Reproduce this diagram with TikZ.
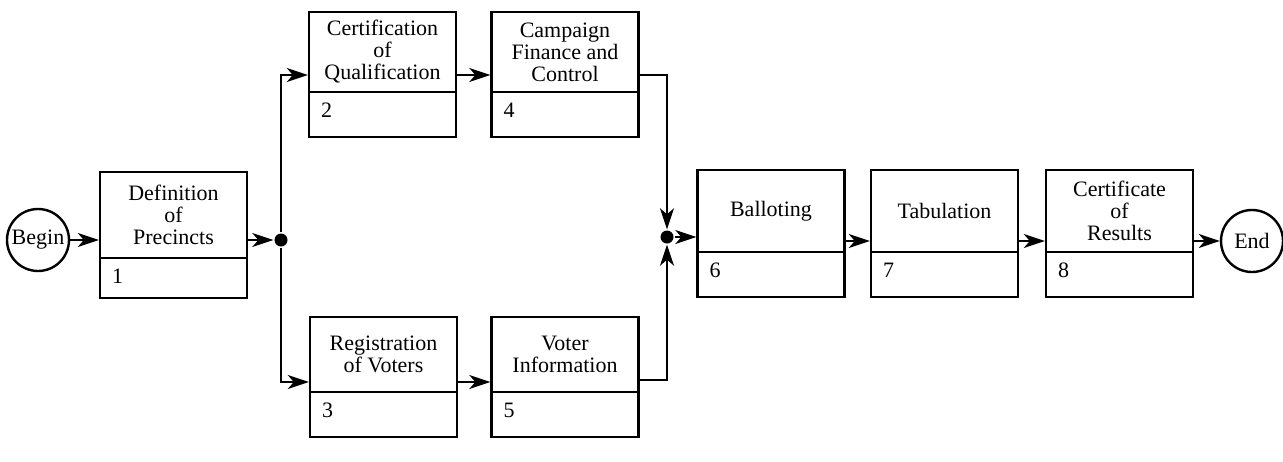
\documentclass[tikz,border=0pt]{standalone}
\usepackage{fontspec}
\setmainfont{Liberation Serif}
\usetikzlibrary{arrows.meta,positioning}

\begin{document}
\begin{tikzpicture}[
        x=1pt, y=-1pt,
        line width=2.4pt,
        font=\fontsize{22}{22}\selectfont,
        >={Stealth[length=21pt,width=14pt,inset=6pt]},
        stage/.style={
        draw,
        minimum width=147pt,
        minimum height=#1,
        align=center,
        inner sep=2pt
      },
      stagenum/.style={
        draw,
        text width=123pt,
        inner xsep=12pt,
        inner ysep=0pt,
        text height=25pt,
        text depth=#1,
        align=left
      },
      term/.style={
        circle,
        draw,
        minimum size=62pt,
        inner sep=0pt
      },
      junction/.style={
        circle,
        fill,
        minimum size=13pt,
        inner sep=0pt
      },
      node distance=-2.4pt
    ]

    \useasboundingbox (0, 0) rectangle (1283, 461);

    \node[term] (begin) at (38, 240) {Begin};
    \node[term] (end) at (1252, 241) {End};

    \node[stage=86pt] (t1) at (173.5, 215) {Definition\\of\\Precincts};
    \node[stagenum=15pt, below=of t1] (n1) {1};

    \node[stage=80pt] (t2) at (382.5, 52) {Certification\\of\\Qualification};
    \node[stagenum=20pt, below=of t2] (n2) {2};
    \node[stage=80pt] (t4) at (565, 52) {Campaign\\Finance and\\Control};
    \node[stagenum=20pt, below=of t4] (n4) {4};

    \node[stage=75pt] (t3) at (383.5, 354.5) {Registration\\of Voters};
    \node[stagenum=20pt, below=of t3] (n3) {3};
    \node[stage=75pt] (t5) at (565, 354.5) {Voter\\Information};
    \node[stagenum=20pt, below=of t5] (n5) {5};

    \node[stage=82pt] (t6) at (771, 211) {Balloting};
    \node[stagenum=20pt, below=of t6] (n6) {6};
    \node[stage=82pt] (t7) at (944.5, 211) {Tabulation};
    \node[stagenum=20pt, below=of t7] (n7) {7};
    \node[stage=82pt] (t8) at (1119.5, 211) {Certificate\\of\\Results};
    \node[stagenum=20pt, below=of t8] (n8) {8};

    \node[junction] (dot1) at (281, 240) {};
    \node[junction] (dot2) at (667, 237) {};

    \draw[->] (begin) -- (begin -| t1.west);
    \draw[->] (dot1 -| t1.east) -- (dot1);

    \draw[->] (dot1) |- ([yshift=-23pt]t2.west);
    \draw[->] (dot1) |- ([yshift=-27.5pt]t3.west);

    \draw[->] ([yshift=-23pt]t2.east) -- ([yshift=-23pt]t4.west);
    \draw[->] ([yshift=-27.5pt]t3.east) -- ([yshift=-27.5pt]t5.west);

    \draw[->] ([yshift=-23pt]t4.east) -| (dot2);
    \draw[->] ([yshift=-25.5pt]t5.east) -| (dot2);

    \draw[->] (dot2) -- (dot2 -| t6.west);
    \draw[->] ([yshift=-30pt]t6.east) -- ([yshift=-30pt]t7.west);
    \draw[->] ([yshift=-30pt]t7.east) -- ([yshift=-30pt]t8.west);
    \draw[->] ([yshift=-30pt]t8.east) -- (end);

  \end{tikzpicture}
\end{document}
